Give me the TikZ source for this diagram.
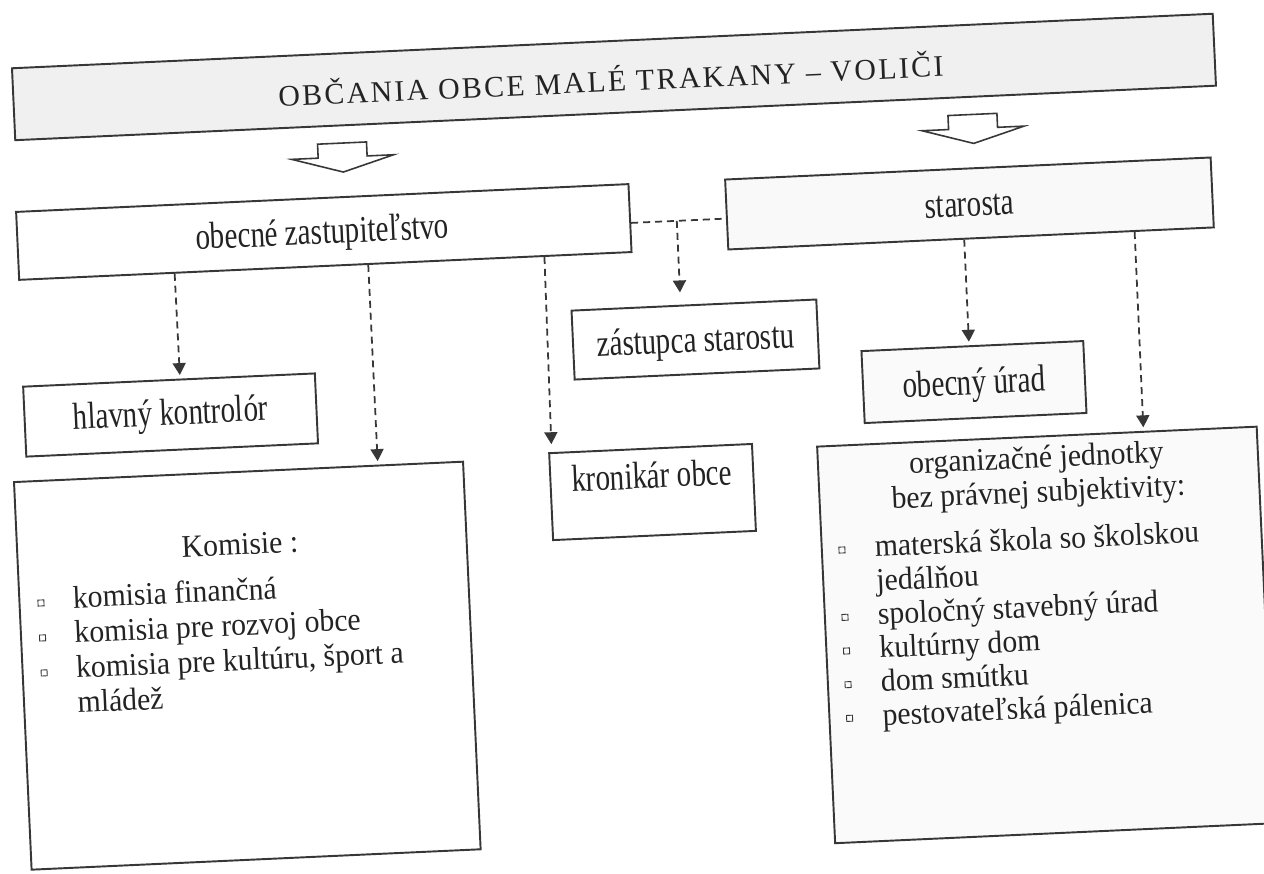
\documentclass[tikz,border=0pt]{standalone}
\usepackage{fontspec}
\setmainfont{Liberation Serif}
\newfontfamily\lblfont[FakeStretch=0.77]{Liberation Serif}
\newfontfamily\lstfont[FakeStretch=0.94]{Liberation Serif}
\newfontfamily\ttlfont[LetterSpace=7.9]{Liberation Serif}
\usetikzlibrary{arrows.meta,calc}
\definecolor{ln}{RGB}{55,55,55}
\definecolor{txt}{RGB}{35,35,35}
\begin{document}
\begin{tikzpicture}[x=0.02cm,y=-0.02cm,
  sz/.style 2 args={minimum width=#1*0.02cm, minimum height=#2*0.02cm},
  box/.style={draw=ln, line width=1.1pt, inner sep=0pt, rectangle},
  lbl/.style={font=\lblfont\fontsize{21.5}{24}\selectfont, text=txt, inner sep=0pt, anchor=base, text height=12pt, text depth=3pt},
  lst/.style={font=\lstfont\fontsize{18}{20}\selectfont, text=txt, inner sep=0pt, anchor=base west, text height=11pt, text depth=3pt},
  hdr/.style={font=\lstfont\fontsize{18}{20}\selectfont, text=txt, inner sep=0pt, anchor=base, text height=11pt, text depth=3pt},
  dsh/.style={draw=ln, line width=1pt, dash pattern=on 4pt off 2.8pt},
  con/.style={dsh, -{Triangle[length=6.8pt,width=7.4pt]}, shorten >=2pt},
  hollow/.style={draw=ln, line width=0.9pt, fill=white, line join=miter},
  bul/.style={draw=ln, line width=0.5pt, minimum size=3.4pt, inner sep=0pt, rectangle},
]
\fill[white] (0,0) rectangle (1264,873);
\useasboundingbox (0,0) rectangle (1264,873);
\begin{scope}[rotate around={2.6:(632,436.5)}, transform shape]
% title
\node[box, sz={1202}{72}, fill=gray!12] (title) at (630.3,76.5) {};
\node[font=\ttlfont\fontsize{17}{20}\selectfont, text=txt, inner sep=0pt, anchor=base] (titleT) at (627,91) {OBČANIA OBCE MALÉ TRAKANY – VOLIČI};
% hollow arrows
\coordinate (a1) at (355.6,130.2);
\coordinate (a2) at (986.7,130.2);
\draw[hollow] (331.1,130.2) -- ++(49,0) -- ++(0,14) -- ++(26.5,0) -- ++(-51,15) -- ++(-51,-15) -- ++(26.5,0) -- cycle;
\draw[hollow] (962.2,130.2) -- ++(49,0) -- ++(0,14) -- ++(26.5,0) -- ++(-51,15) -- ++(-51,-15) -- ++(26.5,0) -- cycle;
% boxes
\node[box, sz={613}{68}] (zast) at (333.4,218.2) {};
\node[lbl] (zastT) at (332,230) {obecné zastupiteľstvo};
\node[box, sz={486}{70}, fill=gray!5] (star) at (979.7,219) {};
\node[lbl] (starT) at (979.7,231.6) {starosta};
\node[box, sz={292}{70}] (kontr) at (172,394.1) {};
\node[lbl] (kontrT) at (172,404) {hlavný kontrolór};
\node[box, sz={245}{69}] (zst) at (699.8,342.5) {};
\node[lbl] (zstT) at (699.8,355) {zástupca starostu};
\node[box, sz={222}{72}, fill=gray!4] (urad) at (976.1,397.6) {};
\node[lbl] (uradT) at (976.1,410) {obecný úrad};
\node[box, sz={203}{87}] (kron) at (650,492.9) {};
\node[lbl] (kronT) at (650,489) {kronikár obce};
% komisie
\node[box, sz={449.5}{388}] (kom) at (237.3,648) {};
\node[hdr] (komT) at (235.4,537) {Komisie :};
\node[bul] (kb1) at (34,576) {};
\node[bul] (kb2) at (34,611) {};
\node[bul] (kb3) at (34,646) {};
\node[lst] (kl1) at (65.8,582.5) {komisia finančná};
\node[lst] (kl2) at (65.8,617.5) {komisia pre rozvoj obce};
\node[lst] (kl3) at (65.8,652.5) {komisia pre kultúru, šport a};
\node[lst] (kl4) at (65.8,687.5) {mládež};
% organizacne jednotky
\node[box, sz={440}{397}, fill=gray!4] (org) at (1036.5,653.5) {};
\node[hdr] (orgT1) at (1035,486.3) {organizačné jednotky};
\node[hdr] (orgT2) at (1035.5,520.4) {bez právnej subjektivity:};
\node[bul] (ob1) at (836.6,559.4) {};
\node[bul] (ob2) at (836.6,626.8) {};
\node[bul] (ob3) at (836.6,660.5) {};
\node[bul] (ob4) at (836.6,694.2) {};
\node[bul] (ob5) at (836.6,727.9) {};
\node[lst] (ol1) at (869.3,567.9) {materská škola so školskou};
\node[lst] (ol2) at (869.3,601.6) {jedálňou};
\node[lst] (ol3) at (869.3,635.3) {spoločný stavebný úrad};
\node[lst] (ol4) at (869.3,669) {kultúrny dom};
\node[lst] (ol5) at (869.3,702.7) {dom smútku};
\node[lst] (ol6) at (869.3,736.4) {pestovateľská pálenica};
% connectors
\draw[con] ($(zast.south west)!0.2546!(zast.south east)$) -- ($(kontr.north west)!0.5377!(kontr.north east)$);
\draw[con] ($(zast.south west)!0.5698!(zast.south east)$) -- ($(kom.north west)!0.809!(kom.north east)$);
\draw[con, shorten >=4.5pt] ($(zast.south west)!0.8566!(zast.south east)$) -- ($(kron.north west)!0.017!(kron.north east)$);
\coordinate (zE) at ($(zast.north east)!0.57!(zast.south east)$);
\coordinate (sW) at ($(star.north west)!0.557!(star.south west)$);
\draw[dsh] (zE) -- (sW);
\coordinate (J) at ($(zE)!0.482!(sW)$);
\draw[con, shorten >=7pt] (J) -- ($(zst.north west)!0.446!(zst.north east)$);
\draw[con] ($(star.south west)!0.486!(star.south east)$) -- ($(urad.north west)!0.4856!(urad.north east)$);
\draw[con] ($(star.south west)!0.8356!(star.south east)$) -- ($(org.north west)!0.7416!(org.north east)$);
\end{scope}
\end{tikzpicture}
\end{document}
